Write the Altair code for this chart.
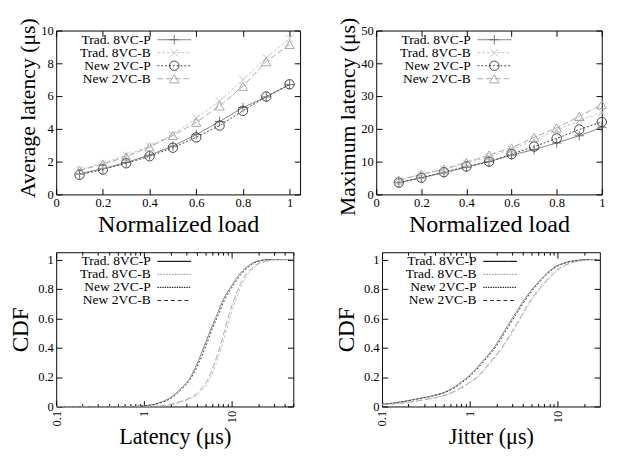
import altair as alt
import pandas as pd

FONT = "Liberation Serif, Times New Roman, serif"
SERIES = ["Trad. 8VC-P", "Trad. 8VC-B", "New 2VC-P", "New 2VC-B"]

# ---- top panels: latency vs normalized load
LOAD = [0.1, 0.2, 0.3, 0.4, 0.5, 0.6, 0.7, 0.8, 0.9, 1.0]
AVG_T8P = [1.25, 1.57, 1.95, 2.4, 2.95, 3.65, 4.45, 5.3, 5.95, 6.7]
AVG_T8B = [1.5, 1.9, 2.4, 2.95, 3.65, 4.65, 5.7, 7.0, 8.35, 9.5]
AVG_N2P = [1.2, 1.52, 1.9, 2.33, 2.85, 3.48, 4.2, 5.1, 5.97, 6.72]
AVG_N2B = [1.47, 1.85, 2.3, 2.9, 3.6, 4.4, 5.4, 6.6, 8.1, 9.15]

MAX_T8P = [3.6, 5.1, 6.6, 8.3, 10.0, 12.0, 13.7, 15.7, 17.9, 20.5]
MAX_T8B = [4.3, 6.1, 7.6, 9.5, 11.5, 13.7, 16.6, 19.6, 22.5, 25.0]
MAX_N2P = [3.6, 5.1, 6.8, 8.5, 10.0, 12.3, 14.6, 17.1, 19.8, 22.1]
MAX_N2B = [4.4, 6.1, 7.8, 9.8, 12.0, 14.2, 17.4, 20.3, 23.8, 27.4]

# ---- bottom-left: latency CDF
LAT_X_T8P = [0.1, 0.7, 1.0, 1.4, 2.0, 2.6, 3.3, 4.0, 4.8, 5.7, 6.7, 8.0, 10.2, 12.0, 14.2, 17.0, 20.7, 25.0, 50.0]
LAT_X_N2P = [0.1, 0.7, 1.0, 1.45, 2.1, 2.7, 3.4, 4.15, 5.0, 5.9, 6.95, 8.3, 10.6, 12.5, 14.8, 17.7, 21.5, 26.0, 50.0]
LAT_C_P = [0.0, 0.0, 0.005, 0.02, 0.062, 0.12, 0.19, 0.29, 0.405, 0.52, 0.619, 0.73, 0.833, 0.895, 0.94, 0.975, 0.993, 1.0, 1.0]
LAT_X_N2B = [0.1, 1.0, 1.6, 2.2, 2.8, 3.4, 3.9, 4.6, 5.4, 6.3, 7.3, 8.2, 9.0, 10.6, 12.5, 14.5, 16.8, 20.0, 24.4, 30.0, 50.0]
LAT_X_T8B = [0.1, 1.05, 1.7, 2.3, 2.95, 3.55, 4.1, 4.85, 5.65, 6.6, 7.65, 8.6, 9.45, 11.1, 13.1, 15.2, 17.6, 21.0, 25.5, 31.0, 50.0]
LAT_C_B = [0.0, 0.0, 0.005, 0.02, 0.04, 0.06, 0.083, 0.13, 0.19, 0.29, 0.405, 0.51, 0.6, 0.73, 0.833, 0.9, 0.94, 0.975, 0.99, 1.0, 1.0]

# ---- bottom-right: jitter CDF
JIT_X_T8P = [0.1, 0.15, 0.24, 0.385, 0.55, 0.75, 1.06, 1.4, 1.9, 2.5, 3.18, 4.3, 5.7, 7.0, 8.7, 12.2, 16.0, 22.0, 50.0]
JIT_X_N2P = [0.1, 0.155, 0.25, 0.4, 0.57, 0.78, 1.1, 1.45, 1.96, 2.6, 3.3, 4.45, 5.9, 7.25, 9.0, 12.6, 16.5, 23.0, 50.0]
JIT_C_P = [0.015, 0.028, 0.05, 0.075, 0.105, 0.155, 0.23, 0.31, 0.405, 0.52, 0.62, 0.74, 0.833, 0.89, 0.94, 0.98, 0.994, 1.0, 1.0]
JIT_X_N2B = [0.1, 0.16, 0.26, 0.43, 0.62, 0.88, 1.3, 1.68, 2.3, 3.0, 3.76, 5.1, 6.8, 8.3, 10.3, 14.5, 19.0, 25.0, 50.0]
JIT_X_T8B = [0.1, 0.165, 0.27, 0.44, 0.64, 0.91, 1.34, 1.73, 2.37, 3.1, 3.87, 5.25, 7.0, 8.55, 10.6, 14.9, 19.6, 26.0, 50.0]
JIT_C_B = [0.012, 0.022, 0.04, 0.064, 0.095, 0.145, 0.22, 0.3, 0.4, 0.51, 0.61, 0.74, 0.833, 0.89, 0.94, 0.98, 0.994, 1.0, 1.0]

LOAD_TICKS = [0, 0.2, 0.4, 0.6, 0.8, 1]
AVG_TICKS = [0, 2, 4, 6, 8, 10]
MAX_TICKS = [0, 10, 20, 30, 40, 50]
CDF_TICKS = [0, 0.2, 0.4, 0.6, 0.8, 1]
LOG_MAJOR = [0.1, 1, 10]
LOG_MINOR = [0.2, 0.3, 0.4, 0.5, 0.6, 0.7, 0.8, 0.9, 2, 3, 4, 5, 6, 7, 8, 9, 20, 30, 40, 50]

# styles
TOP_COLORS = ["#6e6e6e", "#c4c4c4", "#3c3c3c", "#a4a4a4"]
TOP_DASH = [[1, 0], [3, 2], [2, 2], [6, 3]]
TOP_WIDTH = [1, 1, 1, 1]
TOP_SHAPES = ["M-1,0L1,0M0,-1L0,1", "M-0.8,-0.8L0.8,0.8M-0.8,0.8L0.8,-0.8", "circle", "triangle-up"]
BOT_COLORS = ["#1e1e1e", "#b0b0b0", "#2e2e2e", "#2a2a2a"]
BOT_DASH = [[1, 0], [2, 1], [1.5, 1], [4, 3]]
BOT_WIDTH = [1.3, 1.3, 1.3, 1.1]

LEG_ROWS = [9.5, 23, 36.5, 50]
LABEL_EXPR = "'' + datum.value"


def long_df(xs, ys):
    rows = []
    for name, xv, yv in zip(SERIES, xs, ys):
        for a, b in zip(xv, yv):
            rows.append({"series": name, "x": a, "y": b})
    return pd.DataFrame(rows)


def panel(df, w, h, xscale, yscale, xvals, yvals, xtitle, ytitle,
          colors, dashes, widths, shapes=None, log=False,
          ytitle_pad=1, xtitle_pad=2, minor=None, ytitle_y=None, xtitle_size=24, ytitle_size=24):
    color = alt.Color("series:N", scale=alt.Scale(domain=SERIES, range=colors), legend=None)
    dash = alt.StrokeDash("series:N", scale=alt.Scale(domain=SERIES, range=dashes), legend=None)
    swidth = alt.StrokeWidth("series:N", scale=alt.Scale(domain=SERIES, range=widths), legend=None)
    xkw = dict(orient="bottom", values=xvals, labelExpr=LABEL_EXPR, offset=-6, tickSize=6,
               tickColor="black", domain=False, grid=False, title=xtitle, titleFontSize=xtitle_size,
               labelPadding=3, titlePadding=xtitle_pad, labelFlush=False, labelOverlap=False)
    if log:
        xkw.update(labelAngle=270, labelAlign="right", labelBaseline="middle", labelPadding=4)
    xax = alt.Axis(**xkw)
    ykw = dict(orient="left", values=yvals, labelExpr=LABEL_EXPR, offset=-6, tickSize=6,
               tickColor="black", domain=False, grid=False, title=ytitle, titleFontSize=ytitle_size,
               labelPadding=3, titlePadding=ytitle_pad, labelFlush=False, labelOverlap=False)
    if ytitle_y is not None:
        ykw["titleY"] = ytitle_y
    yax = alt.Axis(**ykw)
    layers = []
    layers.append(
        alt.Chart(df).mark_line(interpolate="monotone" if log else "linear", clip=True).encode(
            x=alt.X("x:Q", scale=xscale, axis=xax),
            y=alt.Y("y:Q", scale=yscale, axis=yax),
            color=color, strokeDash=dash, strokeWidth=swidth, detail="series:N",
        )
    )
    if shapes:
        layers.append(
            alt.Chart(df).mark_point(filled=False, size=95, strokeWidth=1, opacity=1).encode(
                x=alt.X("x:Q", scale=xscale, axis=None),
                y=alt.Y("y:Q", scale=yscale, axis=None),
                color=color,
                shape=alt.Shape("series:N", scale=alt.Scale(domain=SERIES, range=shapes), legend=None),
            )
        )
    # mirrored inward ticks on top/right
    layers.append(
        alt.Chart(df).mark_point(opacity=0).encode(
            x=alt.X("x:Q", scale=xscale, axis=alt.Axis(orient="top", values=xvals, labels=False, title=None,
                                                         offset=-6, tickSize=6, tickColor="black", domain=False, grid=False)),
            y=alt.Y("y:Q", scale=yscale, axis=alt.Axis(orient="right", values=yvals, labels=False, title=None,
                                                         offset=-6, tickSize=6, tickColor="black", domain=False, grid=False)),
        )
    )
    if log:
        for ori in ["bottom", "top"]:
            layers.append(
                alt.Chart(df).mark_point(opacity=0).encode(
                    x=alt.X("x:Q", scale=xscale, axis=alt.Axis(orient=ori, values=minor, labels=False, title=None,
                                                                 offset=-3, tickSize=3, tickColor="black",
                                                                 domain=False, grid=False)),
                    y=alt.Y("y:Q", scale=yscale, axis=None),
                )
            )
    # key (legend) drawn gnuplot-style inside the plot
    leg = pd.DataFrame({"series": SERIES})
    for i, name in enumerate(SERIES):
        py = LEG_ROWS[i]
        base = alt.Chart(leg).transform_filter(alt.datum.series == name)
        layers.append(base.mark_text(align="right", baseline="middle", font=FONT, fontSize=14, color="black").encode(
            text="series:N", x=alt.value(98), y=alt.value(py)))
        layers.append(base.mark_rule(color=colors[i], strokeDash=dashes[i], strokeWidth=widths[i]).encode(
            x=alt.value(105), x2=alt.value(140), y=alt.value(py)))
        if shapes:
            layers.append(base.mark_point(shape=shapes[i], filled=False, size=95, strokeWidth=1,
                                          color=colors[i], opacity=1).encode(
                x=alt.value(122.5), y=alt.value(py)))
    return alt.layer(*layers).properties(width=w, height=h).resolve_axis(x="independent", y="independent")


cdf_y = alt.Scale(domain=[0, 1.05], nice=False)

tl = panel(long_df([LOAD] * 4, [AVG_T8P, AVG_T8B, AVG_N2P, AVG_N2B]), 253, 170,
           alt.Scale(domain=[0, 1.045], nice=False, zero=False),
           alt.Scale(domain=[0, 10], nice=False), LOAD_TICKS, AVG_TICKS,
           "Normalized load", "Average latency (μs)", TOP_COLORS, TOP_DASH, TOP_WIDTH, TOP_SHAPES,
           ytitle_pad=2, ytitle_y=80, xtitle_size=25, ytitle_size=22.5)
tr = panel(long_df([LOAD] * 4, [MAX_T8P, MAX_T8B, MAX_N2P, MAX_N2B]), 234, 170,
           alt.Scale(domain=[0, 1.0], nice=False, zero=False),
           alt.Scale(domain=[0, 50], nice=False), LOAD_TICKS, MAX_TICKS,
           "Normalized load", "Maximum latency (μs)", TOP_COLORS, TOP_DASH, TOP_WIDTH, TOP_SHAPES,
           ytitle_pad=2, ytitle_y=89, xtitle_size=25, ytitle_size=22.5)
bl = panel(long_df([LAT_X_T8P, LAT_X_T8B, LAT_X_N2P, LAT_X_N2B], [LAT_C_P, LAT_C_B, LAT_C_P, LAT_C_B]),
           246, 160, alt.Scale(type="log", domain=[0.1, 50], nice=False), cdf_y,
           LOG_MAJOR, CDF_TICKS, "Latency (μs)", "CDF",
           BOT_COLORS, BOT_DASH, BOT_WIDTH, log=True, minor=LOG_MINOR, xtitle_pad=0, ytitle_pad=5.5,
           xtitle_size=23)
br = panel(long_df([JIT_X_T8P, JIT_X_T8B, JIT_X_N2P, JIT_X_N2B], [JIT_C_P, JIT_C_B, JIT_C_P, JIT_C_B]),
           226, 160, alt.Scale(type="log", domain=[0.1, 30], nice=False), cdf_y,
           LOG_MAJOR, CDF_TICKS, "Jitter (μs)", "CDF",
           BOT_COLORS, BOT_DASH, BOT_WIDTH, log=True, minor=LOG_MINOR[:-3], xtitle_pad=0, ytitle_pad=5.5,
           xtitle_size=23)

row1 = alt.hconcat(tl, tr, spacing=36)
row2 = alt.hconcat(bl, br, spacing=38)
chart = alt.vconcat(row1, row2, spacing=15).properties(
    padding={"left": 0, "top": 0, "right": 0, "bottom": 0}
).configure(background="white").configure_view(stroke="black", strokeWidth=1).configure_axis(
    labelFont=FONT, titleFont=FONT, labelFontSize=13, titleFontSize=24, titleFontWeight="normal",
    labelColor="black", titleColor="black"
)

chart.save("out.html", embed_options={"renderer": "svg", "actions": False})
